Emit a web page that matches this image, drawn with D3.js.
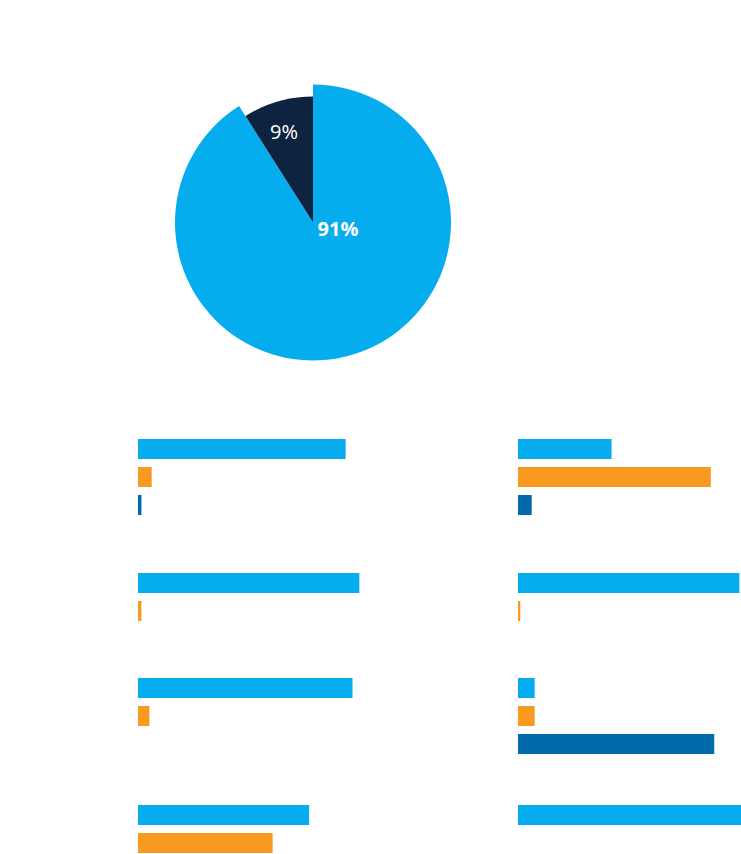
<!DOCTYPE html>
<html>
<head>
<meta charset="utf-8">
<script src="https://cdn.jsdelivr.net/npm/d3@7"></script>
<style>
  html, body { margin: 0; padding: 0; background: #ffffff; }
  svg { display: block; }
</style>
</head>
<body>
<div id="chart"></div>
<script>
// ---- Data ----
const pieLabels = ["91%", "9%"];
const pieValues = [91, 9];

const seriesNames = ["Series A", "Series B", "Series C"];
// Left column groups (values in %)
const leftA = [91, 97, 94, 75];
const leftB = [6, 1.5, 5, 59];
const leftC = [1.5, 0, 0, 0];
// Right column groups (values in %)
const rightA = [41, 97, 7.3, 99];
const rightB = [84.5, 1, 7.3, 0];
const rightC = [6, 0, 86, 0];

// ---- Layout / style ----
const W = 741, H = 854;
const colors = { pieMain: "#06adee", pieSmall: "#0e2340" };
const barColors = ["#06adee", "#f99a20", "#006aaa"];
const pieCenter = [313, 222.5];
const pieRadii = [138, 126];
const colX = [138, 518];
const groupTops = [439, 573, 678, 805];
const slotStep = 28, barH = 20;

const svg = d3.select("#chart").append("svg")
  .attr("width", W).attr("height", H);

// ---- Pie ----
const pie = d3.pie().sort(null).value(d => d.v).startAngle(0).endAngle(2 * Math.PI);
const pieData = pie(pieValues.map((v, i) => ({ v, label: pieLabels[i], i })));
const pieG = svg.append("g").attr("transform", `translate(${pieCenter[0]},${pieCenter[1]})`);
pieG.selectAll("path").data(pieData).join("path")
  .attr("d", d => d3.arc().innerRadius(0).outerRadius(pieRadii[d.data.i])(d))
  .attr("fill", d => d.data.i === 0 ? colors.pieMain : colors.pieSmall);

// Labels
const labelPos = [[25, 6], [-29, -91.5]];
pieG.selectAll("text").data(pieData).join("text")
  .attr("x", d => labelPos[d.data.i][0])
  .attr("y", d => labelPos[d.data.i][1])
  .attr("text-anchor", "middle")
  .attr("dominant-baseline", "central")
  .attr("fill", "#ffffff")
  .attr("font-family", "'Open Sans', sans-serif")
  .attr("font-size", 20)
  .attr("font-weight", d => d.data.i === 0 ? 700 : 400)
  .text(d => d.data.label);

// ---- Bars ----
const x = d3.scaleLinear().domain([0, 100]).range([0, 228.2]);
const columns = [[leftA, leftB, leftC], [rightA, rightB, rightC]];

columns.forEach((series, ci) => {
  const rows = [];
  series.forEach((vals, si) => {
    vals.forEach((v, gi) => {
      if (v > 0) rows.push({ v, si, gi });
    });
  });
  svg.append("g").attr("transform", `translate(${colX[ci]},0)`)
    .selectAll("rect").data(rows).join("rect")
    .attr("x", 0)
    .attr("y", d => groupTops[d.gi] + d.si * slotStep)
    .attr("width", d => x(d.v))
    .attr("height", barH)
    .attr("fill", d => barColors[d.si]);
});
</script>
</body>
</html>
